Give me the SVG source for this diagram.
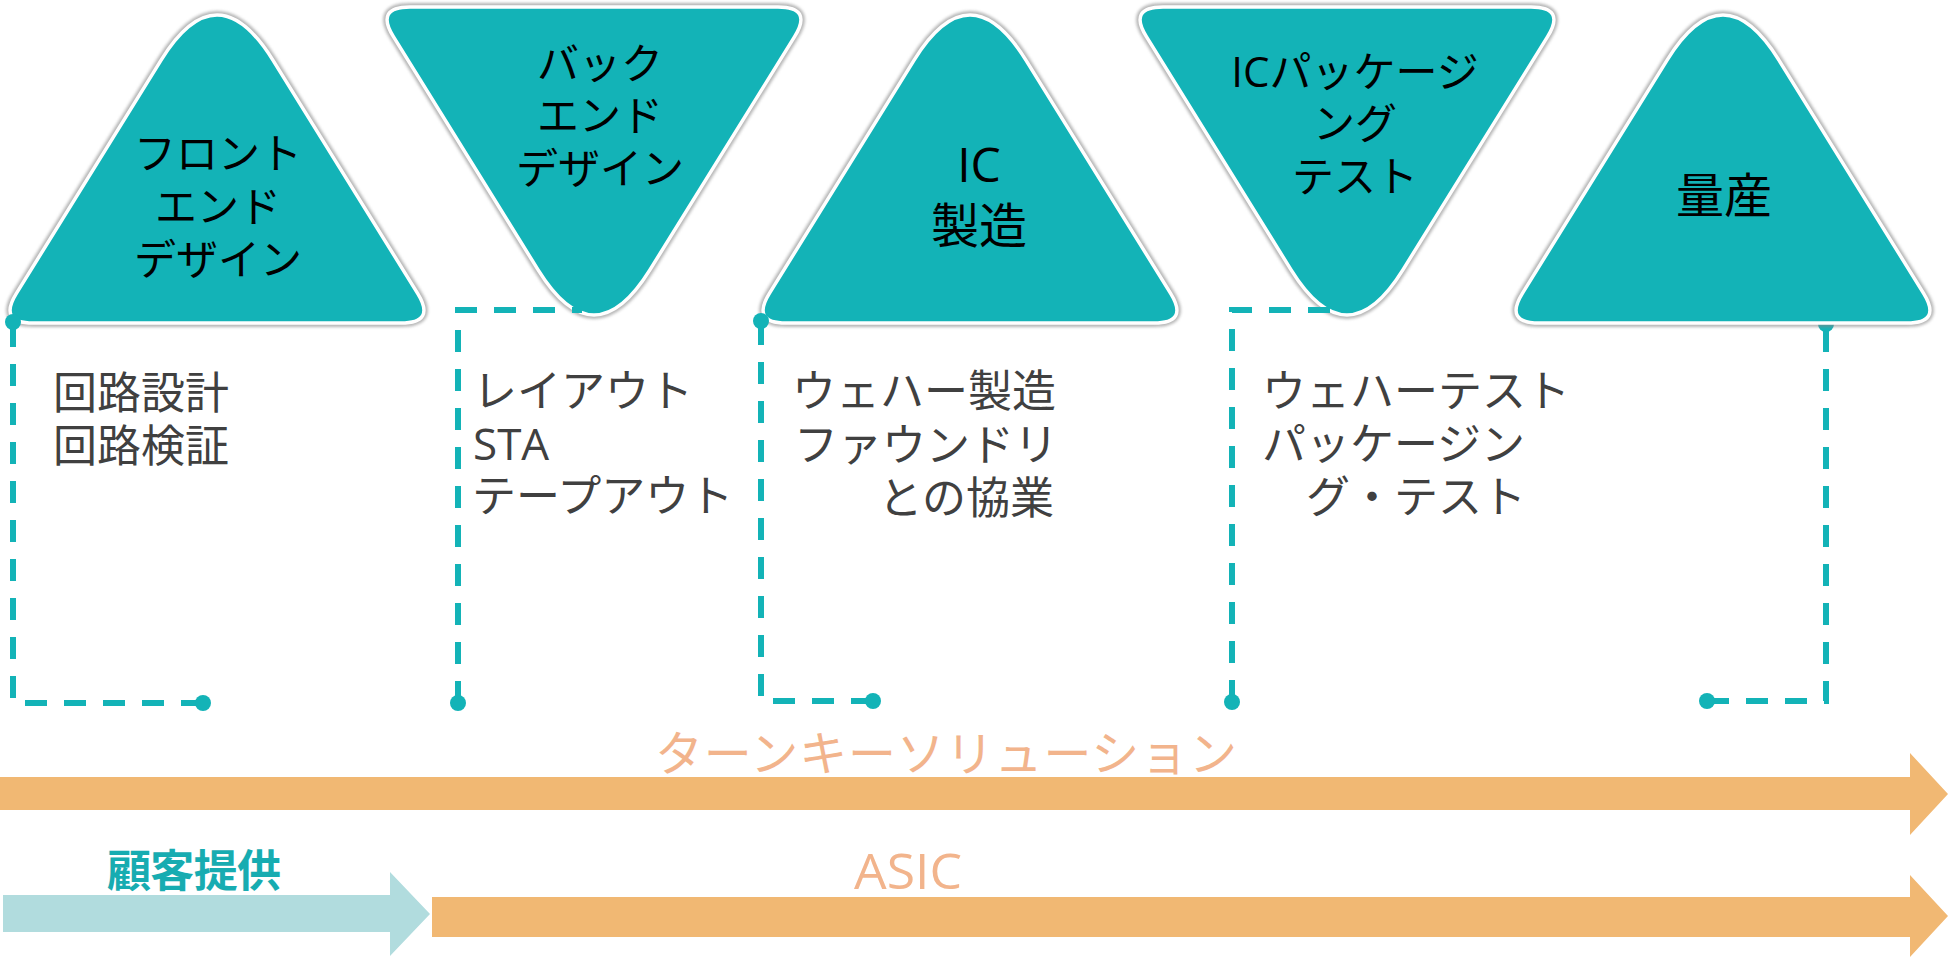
<svg xmlns="http://www.w3.org/2000/svg" width="1950" height="958" viewBox="0 0 1950 958">
<style>
.t{font-family:"Open Sans","Noto Sans CJK JP",sans-serif}
.tri{fill:#13B3B7;stroke:#ffffff;stroke-width:3.5}
.sh{fill:none;stroke:#858585;stroke-width:8;opacity:0.6}
.tt{font-size:42px;fill:#000;text-anchor:middle}
.tb{font-size:48px;fill:#000;text-anchor:middle}
.bx{font-size:44px;fill:#404040}
.dash{fill:none;stroke:#13B3B7;stroke-width:6;stroke-dasharray:22 17}
.dot{fill:#13B3B7}
</style>
<defs>
<filter id="blur" x="-10%" y="-10%" width="120%" height="120%"><feGaussianBlur stdDeviation="1.6"/></filter>
<path id="triUp" d="M-55.9,60.1 Q0,-30 55.9,60.1 L200.6,293.3 Q219,323 184,323 L-184,323 Q-219,323 -200.6,293.3 Z"/>
<path id="triDown" d="M-55.9,269.9 Q0,360 55.9,269.9 L200.6,36.7 Q219,7 184,7 L-184,7 Q-219,7 -200.6,36.7 Z"/>
</defs>
<rect width="1950" height="958" fill="#ffffff"/>

<g id="connectors-hidden">
<path class="dash" d="M1707,701 H1826 V324"/>
<circle class="dot" cx="1826" cy="324" r="8"/>
</g>

<g id="tri-frontend">
<use href="#triUp" transform="translate(217,0)" class="sh" filter="url(#blur)"/>
<use href="#triUp" transform="translate(217,0)" class="tri"/>
<text class="t tt" x="218" y="169">フロント</text>
<text class="t tt" x="218" y="222">エンド</text>
<text class="t tt" x="218" y="275">デザイン</text>
</g>
<g id="tri-backend">
<use href="#triDown" transform="translate(594,0)" class="sh" filter="url(#blur)"/>
<use href="#triDown" transform="translate(594,0)" class="tri"/>
<text class="t tt" x="600" y="79">バック</text>
<text class="t tt" x="600" y="131">エンド</text>
<text class="t tt" x="600" y="184">デザイン</text>
</g>
<g id="tri-icmfg">
<use href="#triUp" transform="translate(970,0)" class="sh" filter="url(#blur)"/>
<use href="#triUp" transform="translate(970,0)" class="tri"/>
<text class="t tb" x="979" y="182">IC</text>
<text class="t tb" x="979" y="243">製造</text>
</g>
<g id="tri-pkg">
<use href="#triDown" transform="translate(1347,0)" class="sh" filter="url(#blur)"/>
<use href="#triDown" transform="translate(1347,0)" class="tri"/>
<text class="t tt" x="1355" y="87">ICパッケージ</text>
<text class="t tt" x="1355" y="139">ング</text>
<text class="t tt" x="1355" y="192">テスト</text>
</g>
<g id="tri-mass">
<use href="#triUp" transform="translate(1723,0)" class="sh" filter="url(#blur)"/>
<use href="#triUp" transform="translate(1723,0)" class="tri"/>
<text class="t tb" x="1724" y="213">量産</text>
</g>

<g id="connectors">
<path class="dash" d="M203,703 H13 V322"/>
<circle class="dot" cx="203" cy="703" r="8"/>
<circle class="dot" cx="13" cy="322" r="8"/>
<path class="dash" d="M458,703 V310 H582"/>
<circle class="dot" cx="458" cy="703" r="8"/>
<path class="dash" d="M873,701 H761 V321"/>
<circle class="dot" cx="873" cy="701" r="8"/>
<circle class="dot" cx="761" cy="321" r="8"/>
<path class="dash" d="M1232,702 V310 H1335"/>
<circle class="dot" cx="1232" cy="702" r="8"/>
<circle class="dot" cx="1707" cy="701" r="8"/>
</g>

<g id="box-frontend">
<text class="t bx" x="53" y="409">回路設計</text>
<text class="t bx" x="53" y="462">回路検証</text>
</g>
<g id="box-backend">
<text class="t bx" x="473" y="407">レイアウト</text>
<text class="t bx" x="473" y="460">STA</text>
<text class="t bx" x="472" y="512">テープアウト</text>
</g>
<g id="box-icmfg">
<text class="t bx" x="792" y="407">ウェハー製造</text>
<text class="t bx" x="794" y="461">ファウンドリ</text>
<text class="t bx" x="1054" y="514" text-anchor="end">との協業</text>
</g>
<g id="box-pkg">
<text class="t bx" x="1262" y="407">ウェハーテスト</text>
<text class="t bx" x="1262" y="460">パッケージン</text>
<text class="t bx" x="1306" y="513">グ・テスト</text>
</g>

<g id="arrow-turnkey">
<text class="t" x="655" y="771" font-size="48" fill="#F2B48C" textLength="582" lengthAdjust="spacing">ターンキーソリューション</text>
<path d="M0,777 H1910 V753 L1948,794 L1910,835 V810 H0 Z" fill="#F1B873"/>
</g>
<g id="arrow-customer">
<text class="t" x="107" y="887" font-size="44" font-weight="bold" fill="#17ACB1" textLength="174" lengthAdjust="spacing">顧客提供</text>
<path d="M3,895 H390 V872 L430,914 L390,956 V932 H3 Z" fill="#B1DCDE"/>
</g>
<g id="arrow-asic">
<text class="t" x="854" y="889" font-size="49" fill="#F2B48C" textLength="108" lengthAdjust="spacingAndGlyphs">ASIC</text>
<path d="M432,897 H1910 V875 L1948,916 L1910,957 V937 H432 Z" fill="#F1B873"/>
</g>
</svg>
